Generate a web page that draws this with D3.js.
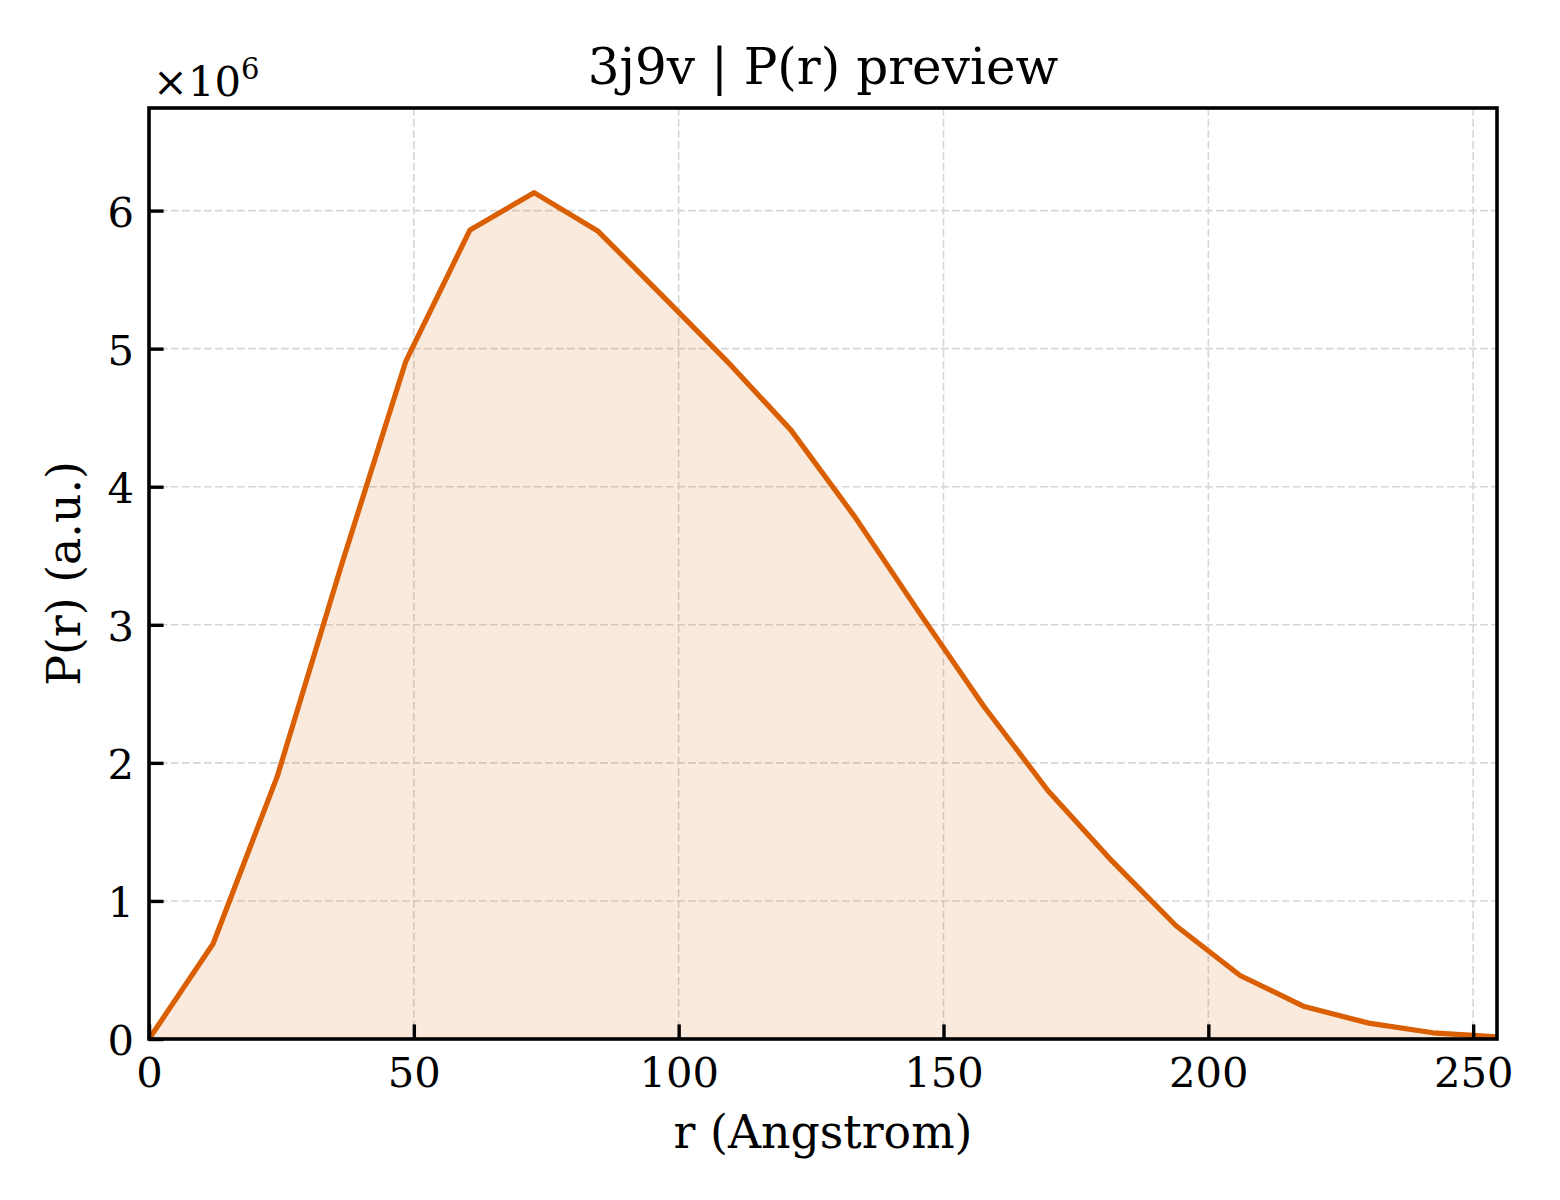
<!DOCTYPE html>
<html>
<head>
<meta charset="utf-8">
<script src="https://cdn.jsdelivr.net/npm/d3@7"></script>
<style>
  html, body { margin: 0; padding: 0; background: #fff; }
  text { font-family: "DejaVu Serif", serif; fill: #000; }
</style>
</head>
<body>
<script>
// r in Angstrom and P(r) in units of 1e6
var rValues = [0, 12.1, 24.2, 36.4, 48.5, 60.6, 72.7, 84.8, 97.0, 109.1, 121.2,
               133.3, 145.4, 157.6, 169.7, 181.8, 193.9, 206.0, 218.1, 230.3, 242.4, 254.5];
var prValues = [0, 0.69, 1.90, 3.44, 4.91, 5.86, 6.13, 5.85, 5.38, 4.91, 4.41,
                3.78, 3.09, 2.41, 1.80, 1.29, 0.82, 0.46, 0.235, 0.115, 0.045, 0.015];
var xTicks = [0, 50, 100, 150, 200, 250];
var yTicks = [0, 1, 2, 3, 4, 5, 6];

var data = rValues.map(function(r, i) { return {r: r, p: prValues[i]}; });

// figure and axes box (pixels)
var W = 1560, H = 1200;
var margin = {top: 108, right: 63, bottom: 161, left: 149},
    width = W - margin.left - margin.right,
    height = H - margin.top - margin.bottom;

var lineColor = "#d95f02";
var tickLen = 14.6;

var svg = d3.select("body").append("svg")
    .attr("width", W)
    .attr("height", H);

var g = svg.append("g")
    .attr("transform", "translate(" + margin.left + "," + margin.top + ")");

var x = d3.scaleLinear().domain([0, d3.max(rValues)]).range([0, width]);
var y = d3.scaleLinear().domain([0, d3.max(prValues) * 1.1]).range([height, 0]);

// grid
g.append("g").selectAll("line")
    .data(xTicks)
    .enter().append("line")
        .attr("x1", function(d) { return x(d); })
        .attr("x2", function(d) { return x(d); })
        .attr("y1", 0).attr("y2", height)
        .attr("stroke", "#d6d6d6")
        .attr("stroke-width", 1.6)
        .attr("stroke-dasharray", "7.7,3.3");

g.append("g").selectAll("line")
    .data(yTicks)
    .enter().append("line")
        .attr("x1", 0).attr("x2", width)
        .attr("y1", function(d) { return y(d); })
        .attr("y2", function(d) { return y(d); })
        .attr("stroke", "#d6d6d6")
        .attr("stroke-width", 1.6)
        .attr("stroke-dasharray", "7.7,3.3");

// filled area under the curve
var area = d3.area()
    .x(function(d) { return x(d.r); })
    .y0(y(0))
    .y1(function(d) { return y(d.p); });

g.append("path")
    .datum(data)
    .attr("d", area)
    .attr("fill", lineColor)
    .attr("fill-opacity", 0.13);

// P(r) line
var line = d3.line()
    .x(function(d) { return x(d.r); })
    .y(function(d) { return y(d.p); });

g.append("path")
    .datum(data)
    .attr("d", line)
    .attr("fill", "none")
    .attr("stroke", lineColor)
    .attr("stroke-width", 5.2)
    .attr("stroke-linejoin", "round");

// axes with inward ticks
var xAxis = d3.axisBottom(x)
    .tickValues(xTicks)
    .tickSizeInner(-tickLen)
    .tickSizeOuter(0)
    .tickPadding(0);

var gx = g.append("g")
    .attr("transform", "translate(0," + height + ")")
    .call(xAxis);
gx.select(".domain").remove();
gx.selectAll(".tick line").attr("stroke", "#000").attr("stroke-width", 3.4);
gx.selectAll(".tick text")
    .attr("y", 48)
    .attr("dy", 0)
    .style("font-size", "41.7px")
    .style("font-family", "DejaVu Serif");

var yAxis = d3.axisLeft(y)
    .tickValues(yTicks)
    .tickFormat(d3.format("d"))
    .tickSizeInner(-tickLen)
    .tickSizeOuter(0)
    .tickPadding(0);

var gy = g.append("g").call(yAxis);
gy.select(".domain").remove();
gy.selectAll(".tick line").attr("stroke", "#000").attr("stroke-width", 3.4);
gy.selectAll(".tick text")
    .attr("x", -15)
    .attr("dy", "0.37em")
    .style("font-size", "41.7px")
    .style("font-family", "DejaVu Serif");

// frame
g.append("rect")
    .attr("x", 0).attr("y", 0)
    .attr("width", width).attr("height", height)
    .attr("fill", "none")
    .attr("stroke", "#000")
    .attr("stroke-width", 3.6);

// title
svg.append("text")
    .attr("x", margin.left + width / 2)
    .attr("y", 84)
    .attr("text-anchor", "middle")
    .style("font-size", "50px")
    .text("3j9v | P(r) preview");

// axis labels
svg.append("text")
    .attr("x", margin.left + width / 2)
    .attr("y", 1148)
    .attr("text-anchor", "middle")
    .style("font-size", "45.8px")
    .text("r (Angstrom)");

svg.append("text")
    .attr("transform", "translate(80," + (margin.top + height / 2) + ") rotate(-90)")
    .attr("text-anchor", "middle")
    .style("font-size", "45.8px")
    .text("P(r) (a.u.)");

// offset text for the y scale
var offset = svg.append("text")
    .attr("x", 153)
    .attr("y", 96)
    .style("font-size", "41.7px");
offset.append("tspan").text("\u00d710");
offset.append("tspan")
    .attr("dy", -17)
    .style("font-size", "29px")
    .text("6");
</script>
</body>
</html>
